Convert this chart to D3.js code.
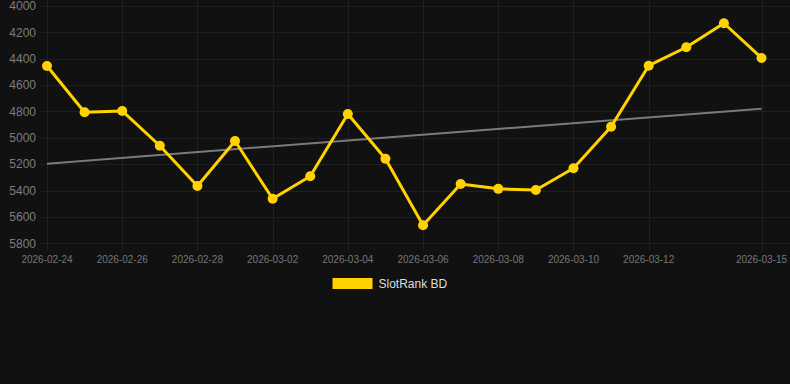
<!DOCTYPE html>
<html>
<head>
<meta charset="utf-8">
<script src="https://cdn.jsdelivr.net/npm/d3@7"></script>
<style>
  html, body { margin: 0; padding: 0; background: #111111; }
  svg { display: block; font-family: "Liberation Sans", Arial, sans-serif; }
</style>
</head>
<body>
<svg id="chart" width="790" height="384"></svg>
<script>
// daily values
const dates = [
  "2026-02-24", "2026-02-25", "2026-02-26", "2026-02-27", "2026-02-28",
  "2026-03-01", "2026-03-02", "2026-03-03", "2026-03-04", "2026-03-05",
  "2026-03-06", "2026-03-07", "2026-03-08", "2026-03-09", "2026-03-10",
  "2026-03-11", "2026-03-12", "2026-03-13", "2026-03-14", "2026-03-15",
];
const ranks = [
  4455, 4806, 4796, 5060, 5365, 5024, 5462, 5292, 4819, 5158,
  5663, 5350, 5387, 5396, 5231, 4916, 4453, 4313, 4131, 4394,
];
const trendValues = [5196, 4779]; // at first and last date
const xTickLabels = [
  "2026-02-24", "2026-02-26", "2026-02-28", "2026-03-02", "2026-03-04",
  "2026-03-06", "2026-03-08", "2026-03-10", "2026-03-12", "2026-03-15",
];
const yTicks = [4000, 4200, 4400, 4600, 4800, 5000, 5200, 5400, 5600, 5800];
const seriesName = "SlotRank BD";

const lineColor = "#ffd200";
const gridColor = "#1f1f1f";

const svg = d3.select("#chart");
const parse = d3.utcParse("%Y-%m-%d");

const plotLeft = 40;
const plotRight = 790;
const x = d3.scaleUtc()
  .domain([parse(dates[0]), parse(dates[dates.length - 1])])
  .range([47, 761.5]);
const y = d3.scaleLinear().domain([4000, 5800]).range([6, 243.3]);

// horizontal grid + y labels
const yAxis = svg.append("g");
yAxis.selectAll("line")
  .data(yTicks)
  .join("line")
  .attr("x1", plotLeft)
  .attr("x2", plotRight)
  .attr("y1", (d) => Math.round(y(d)) + 0.5)
  .attr("y2", (d) => Math.round(y(d)) + 0.5)
  .attr("stroke", gridColor);
yAxis.selectAll("text")
  .data(yTicks)
  .join("text")
  .attr("x", 36)
  .attr("y", (d) => y(d))
  .attr("dy", "0.35em")
  .attr("text-anchor", "end")
  .attr("font-size", 12)
  .attr("fill", "#7d7d7d")
  .text((d) => d);

// vertical grid + x labels
const xAxis = svg.append("g");
xAxis.selectAll("line")
  .data(xTickLabels)
  .join("line")
  .attr("x1", (d) => Math.round(x(parse(d))) + 0.5)
  .attr("x2", (d) => Math.round(x(parse(d))) + 0.5)
  .attr("y1", 0)
  .attr("y2", 251)
  .attr("stroke", gridColor);
xAxis.selectAll("text")
  .data(xTickLabels)
  .join("text")
  .attr("x", (d) => x(parse(d)))
  .attr("y", 259)
  .attr("dy", "0.35em")
  .attr("text-anchor", "middle")
  .attr("font-size", 10)
  .attr("fill", "#767676")
  .text((d) => d);

// trend line
const trendDates = [dates[0], dates[dates.length - 1]];
svg.append("path")
  .datum(trendValues.map((v, i) => [parse(trendDates[i]), v]))
  .attr("fill", "none")
  .attr("stroke", "#7a7a7a")
  .attr("stroke-width", 2)
  .attr("d", d3.line().x((d) => x(d[0])).y((d) => y(d[1])));

// main series
const points = dates.map((d, i) => ({ date: parse(d), value: ranks[i] }));
svg.append("path")
  .datum(points)
  .attr("fill", "none")
  .attr("stroke", lineColor)
  .attr("stroke-width", 3)
  .attr("stroke-linejoin", "round")
  .attr("d", d3.line().x((d) => x(d.date)).y((d) => y(d.value)));

svg.append("g")
  .selectAll("circle")
  .data(points)
  .join("circle")
  .attr("cx", (d) => x(d.date))
  .attr("cy", (d) => y(d.value))
  .attr("r", 5)
  .attr("fill", lineColor);

// legend
const legend = svg.append("g");
legend.append("rect")
  .attr("x", 332.5)
  .attr("y", 278)
  .attr("width", 40)
  .attr("height", 11)
  .attr("fill", lineColor);
legend.append("text")
  .attr("x", 378.5)
  .attr("y", 284)
  .attr("dy", "0.35em")
  .attr("font-size", 12)
  .attr("fill", "#dedede")
  .text(seriesName);
</script>
</body>
</html>
